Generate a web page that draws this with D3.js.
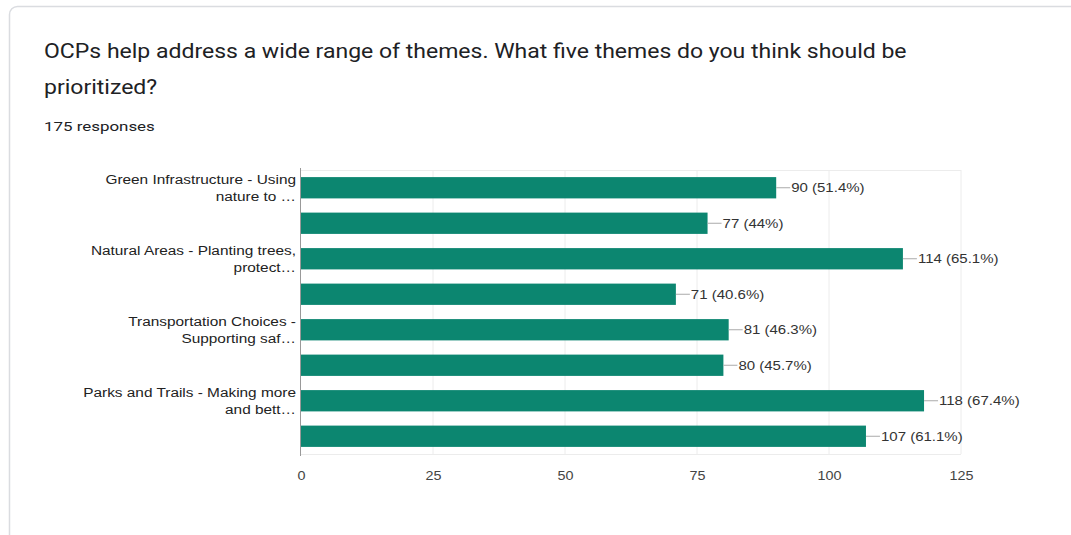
<!DOCTYPE html>
<html>
<head>
<meta charset="utf-8">
<script src="https://cdn.jsdelivr.net/npm/d3@7"></script>
<style>
  html, body { margin: 0; padding: 0; background: #fff; }
  svg { display: block; }
</style>
</head>
<body>
<svg id="chart" width="1071" height="535"></svg>
<script>
// Survey question and response count
const titleLines = [
  "OCPs help address a wide range of themes. What five themes do you think should be",
  "prioritized?"
];
const responseText = "175 responses";

// Themes (Google Charts only prints every other axis label; the rest stay blank)
const categoryLines = [
  ["Green Infrastructure - Using", "nature to \u2026"],
  [],
  ["Natural Areas - Planting trees,", "protect\u2026"],
  [],
  ["Transportation Choices -", "Supporting saf\u2026"],
  [],
  ["Parks and Trails - Making more", "and bett\u2026"],
  []
];
const counts = [90, 77, 114, 71, 81, 80, 118, 107];
const percents = ["51.4%", "44%", "65.1%", "40.6%", "46.3%", "45.7%", "67.4%", "61.1%"];
const xTicks = [0, 25, 50, 75, 100, 125];

const svg = d3.select("#chart");
const font = "Arial, 'Liberation Sans', sans-serif";

// Widen text horizontally by a factor, keeping its anchor
function stretch(sel, factor) {
  sel.each(function () {
    const w = this.getComputedTextLength();
    d3.select(this)
      .attr("textLength", w * factor)
      .attr("lengthAdjust", "spacingAndGlyphs");
  });
}

// Card outline
svg.append("rect")
  .attr("x", 9.5).attr("y", 6.5)
  .attr("width", 1080).attr("height", 560)
  .attr("rx", 8)
  .attr("fill", "#fff")
  .attr("stroke", "#dadce0")
  .attr("stroke-width", 1.5);

// Title
svg.append("g").selectAll("text")
  .data(titleLines)
  .join("text")
  .attr("x", 44)
  .attr("y", (d, i) => 58 + i * 36)
  .attr("font-family", "Roboto, " + font)
  .attr("font-size", 20)
  .attr("fill", "#202124")
  .text(d => d)
  .call(stretch, 1.15);

svg.append("text")
  .attr("x", 44).attr("y", 131)
  .attr("font-family", "Roboto, " + font)
  .attr("font-size", 13)
  .attr("fill", "#202124")
  .text(responseText)
  .call(stretch, 1.3);

// Scales
const x = d3.scaleLinear().domain([0, 125]).range([301, 961]);
const y = d3.scaleBand()
  .domain(d3.range(counts.length))
  .range([170, 454])
  .paddingInner(0.4)
  .paddingOuter(0.2);

// Gridlines
const grid = svg.append("g");
grid.selectAll("line.v")
  .data(xTicks.slice(1))
  .join("line")
  .attr("x1", d => x(d)).attr("x2", d => x(d))
  .attr("y1", 170).attr("y2", 454)
  .attr("stroke", "#ececec").attr("stroke-width", 1);
grid.append("line")
  .attr("x1", x(0)).attr("x2", x(125))
  .attr("y1", 170.5).attr("y2", 170.5)
  .attr("stroke", "#ececec");
grid.append("line")
  .attr("x1", x(0)).attr("x2", x(125))
  .attr("y1", 454.5).attr("y2", 454.5)
  .attr("stroke", "#ececec");

// Bottom axis tick labels
const xAxis = d3.axisBottom(x).tickValues(xTicks).tickSize(0).tickPadding(0);
const ax = svg.append("g").attr("transform", "translate(0,480)").call(xAxis);
ax.select(".domain").remove();
ax.selectAll("text")
  .attr("font-family", font)
  .attr("font-size", 12.5)
  .attr("fill", "#444")
  .attr("dy", "0")
  .attr("y", 0)
  .call(stretch, 1.15);

// Bars
const barColor = "#0c8670";
svg.append("g").selectAll("rect")
  .data(counts)
  .join("rect")
  .attr("x", x(0))
  .attr("y", (d, i) => y(i))
  .attr("width", d => x(d) - x(0))
  .attr("height", y.bandwidth())
  .attr("fill", barColor);

// Left axis line
svg.append("line")
  .attr("x1", x(0) - 0.5).attr("x2", x(0) - 0.5)
  .attr("y1", 168).attr("y2", 456)
  .attr("stroke", "#999").attr("stroke-width", 1);

// Category labels (two lines, right aligned)
const catG = svg.append("g");
categoryLines.forEach((lines, i) => {
  const cy = y(i) + y.bandwidth() / 2;
  lines.forEach((t, j) => {
    catG.append("text")
      .attr("x", 296)
      .attr("y", cy + (j - (lines.length - 1) / 2) * 16.5 + 4.5)
      .attr("text-anchor", "end")
      .attr("font-family", font)
      .attr("font-size", 12.5)
      .attr("fill", "#222")
      .text(t)
      .call(stretch, 1.23);
  });
});

// Value annotations with leader lines
const ann = svg.append("g");
counts.forEach((v, i) => {
  const cy = y(i) + y.bandwidth() / 2;
  ann.append("line")
    .attr("x1", x(v)).attr("x2", x(v) + 14)
    .attr("y1", cy).attr("y2", cy)
    .attr("stroke", "#aaa").attr("stroke-width", 1);
  ann.append("text")
    .attr("x", x(v) + 15)
    .attr("y", cy + 4.5)
    .attr("font-family", font)
    .attr("font-size", 12.5)
    .attr("fill", "#333")
    .text(`${v} (${percents[i]})`)
    .call(stretch, 1.2);
});
</script>
</body>
</html>
